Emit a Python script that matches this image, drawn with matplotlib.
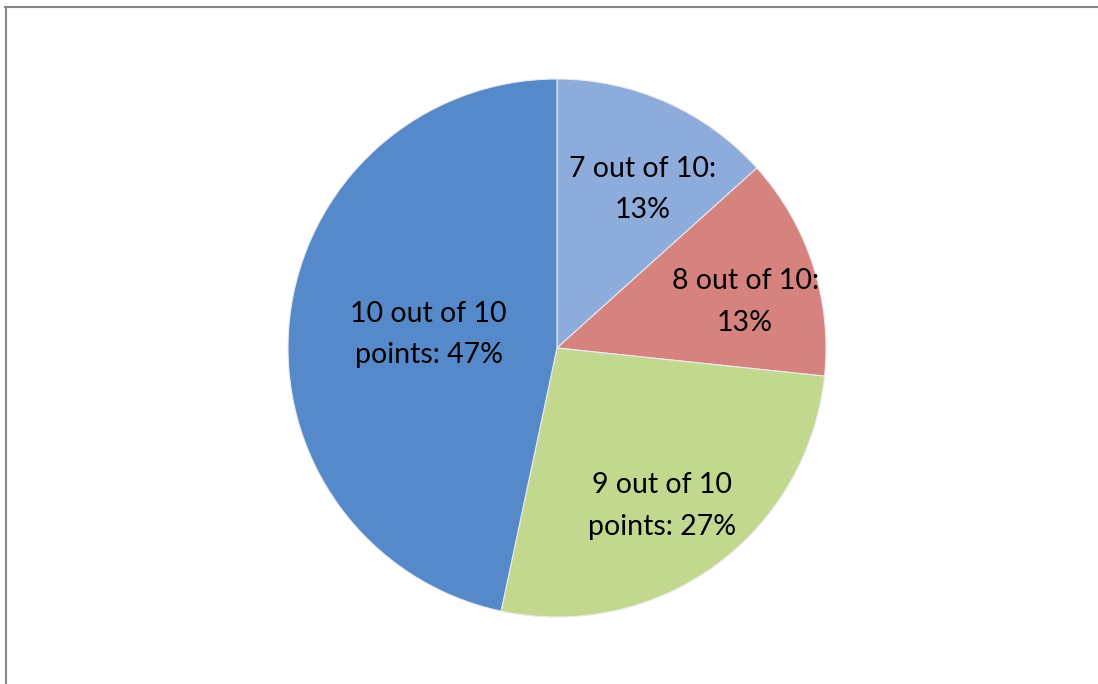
import numpy as np
import matplotlib.pyplot as plt
from matplotlib.lines import Line2D

plt.rcParams['font.family'] = ['Lato', 'DejaVu Sans']

labels = ["7 out of 10:\n13%", "8 out of 10:\n13%", "9 out of 10\npoints: 27%", "10 out of 10\npoints: 47%"]
counts = [2, 2, 4, 7]
colors = ["#8EACDB", "#D6827F", "#C2D88F", "#5589CA"]
label_dist = [0.67, 0.72, 0.705, 0.48]
label_shift = [-4.4, -4.3, -2.4, 0.0]  # degrees, clockwise shift from mid angle

W, H = 1098, 684
fig = plt.figure(figsize=(W / 100, H / 100), dpi=100)
cx, cy, r = 557, 348, 269
ax = fig.add_axes([(cx - r) / W, (H - cy - r) / H, 2 * r / W, 2 * r / H])

wedges, _ = ax.pie(counts, colors=colors, startangle=90, counterclock=False,
                   wedgeprops=dict(edgecolor="#eaeaea", linewidth=0.8))
ax.set_xlim(-1, 1)
ax.set_ylim(-1, 1)
ax.axis("off")

for w, lab, d, s in zip(wedges, labels, label_dist, label_shift):
    ang = np.deg2rad((w.theta1 + w.theta2) / 2 + s)
    ax.text(d * np.cos(ang), d * np.sin(ang), lab, ha="center", va="center",
            fontsize=20.5, linespacing=1.75, color="black")

# frame on top and left only
fig.add_artist(Line2D([5 / W, 1], [1 - 7 / H, 1 - 7 / H], color="#888888", lw=1.5))
fig.add_artist(Line2D([6 / W, 6 / W], [0, 1 - 7 / H], color="#888888", lw=1.5))

fig.savefig("out.png", dpi=100)
